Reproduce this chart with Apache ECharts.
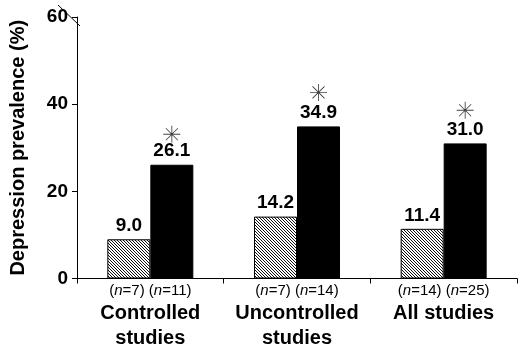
<!DOCTYPE html>
<html>
<head>
<meta charset="utf-8">
<script src="https://cdn.jsdelivr.net/npm/echarts@6/dist/echarts.min.js"></script>
<style>
  html, body { margin: 0; padding: 0; background: #fff; }
  #chart { width: 520px; height: 348px; }
</style>
</head>
<body>
<div id="chart"></div>
<script>
// data
const categories = ['Controlled\nstudies', 'Uncontrolled\nstudies', 'All studies'];
const nHatched = [7, 7, 14];
const nBlack = [11, 14, 25];
const hatchedValues = [9.0, 14.2, 11.4];
const blackValues = [26.1, 34.9, 31.0];
const starValues = [33.1, 42.7, 38.6];   // asterisk positions
const yTicks = [0, 20, 40, 60];

// diagonal hatch tile
function hatchTile() {
  const s = 3;
  const c = document.createElement('canvas');
  c.width = s; c.height = s;
  const ctx = c.getContext('2d');
  ctx.fillStyle = '#fff';
  ctx.fillRect(0, 0, s, s);
  ctx.strokeStyle = '#111';
  ctx.lineWidth = 1;
  ctx.beginPath();
  ctx.moveTo(-1, -1); ctx.lineTo(s + 1, s + 1);
  ctx.moveTo(-1, s - 1); ctx.lineTo(1, s + 1);
  ctx.moveTo(s - 1, -1); ctx.lineTo(s + 1, 1);
  ctx.stroke();
  return c;
}

const asterisk = 'path://M0 9.5L20 9.5L20 10.5L0 10.5Z' +
  'M9.5 0L10.5 0L10.5 20L9.5 20Z' +
  'M2.58 3.28L3.28 2.58L17.42 16.72L16.72 17.42Z' +
  'M16.72 2.58L17.42 3.28L3.28 17.42L2.58 16.72Z' +
  'M8.6 8.6L11.4 8.6L11.4 11.4L8.6 11.4Z';

const font = 'Liberation Sans, Arial, sans-serif';
const chart = echarts.init(document.getElementById('chart'));

const labelFn = v => v.toFixed(1);

chart.setOption({
  animation: false,
  textStyle: { fontFamily: font },
  grid: { left: 68, right: 3, top: 17, bottom: 68, containLabel: false },
  xAxis: {
    type: 'category',
    data: categories,
    axisLine: { lineStyle: { color: '#000', width: 1 } },
    axisTick: { show: true, length: 5, lineStyle: { color: '#000' } },
    axisLabel: {
      margin: 3,
      interval: 0,
      formatter: (val, idx) => {
        const parts = val.split('\n').map(s => '{c|' + s + '}').join('\n');
        return '{n|(}{i|n}{n|=' + nHatched[idx] + ') (}{i|n}{n|=' + nBlack[idx] + ')}\n' + parts;
      },
      rich: {
        n: { fontSize: 15, color: '#000', fontFamily: font, lineHeight: 19 },
        i: { fontSize: 15, color: '#000', fontFamily: font, fontStyle: 'italic', lineHeight: 19 },
        c: { fontSize: 20, fontWeight: 'bold', color: '#000', fontFamily: font, lineHeight: 25 }
      }
    }
  },
  yAxis: {
    type: 'value',
    min: yTicks[0],
    max: yTicks[yTicks.length - 1],
    interval: 20,
    name: 'Depression prevalence (%)',
    nameLocation: 'middle',
    nameGap: 49,
    nameRotate: 90,
    nameTextStyle: { fontSize: 20, fontWeight: 'bold', color: '#000', fontFamily: font },
    splitLine: { show: false },
    axisLine: { show: true, lineStyle: { color: '#000', width: 1 } },
    axisTick: { show: true, length: 5, lineStyle: { color: '#000' } },
    axisLabel: { fontSize: 19, fontWeight: 'bold', color: '#000', margin: 9, fontFamily: font }
  },
  series: [
    {
      type: 'bar',
      data: hatchedValues,
      barWidth: 43,
      barGap: '0%',
      itemStyle: {
        color: { image: hatchTile(), repeat: 'repeat' },
        borderColor: '#000',
        borderWidth: 1
      },
      label: {
        show: true, position: 'top', distance: 4,
        fontSize: 19, fontWeight: 'bold', color: '#000', fontFamily: font,
        formatter: p => labelFn(p.value)
      }
    },
    {
      type: 'bar',
      data: blackValues,
      barWidth: 43,
      barGap: '0%',
      itemStyle: { color: '#000', borderColor: '#000', borderWidth: 1 },
      label: {
        show: true, position: 'top', distance: 4,
        fontSize: 19, fontWeight: 'bold', color: '#000', fontFamily: font,
        formatter: p => labelFn(p.value)
      }
    },
    {
      // asterisks above the black bars
      type: 'scatter',
      data: starValues.map((v, i) => [i, v]),
      symbol: asterisk,
      symbolSize: 17,
      symbolOffset: [21.5, 0],
      itemStyle: { color: '#111' },
      silent: true,
      z: 5
    }
  ],
  graphic: [
    {
      // axis break mark at top of y-axis
      type: 'line',
      shape: { x1: 58, y1: 5, x2: 80, y2: 26 },
      style: { stroke: '#000', lineWidth: 1 }
    }
  ]
});
</script>
</body>
</html>
